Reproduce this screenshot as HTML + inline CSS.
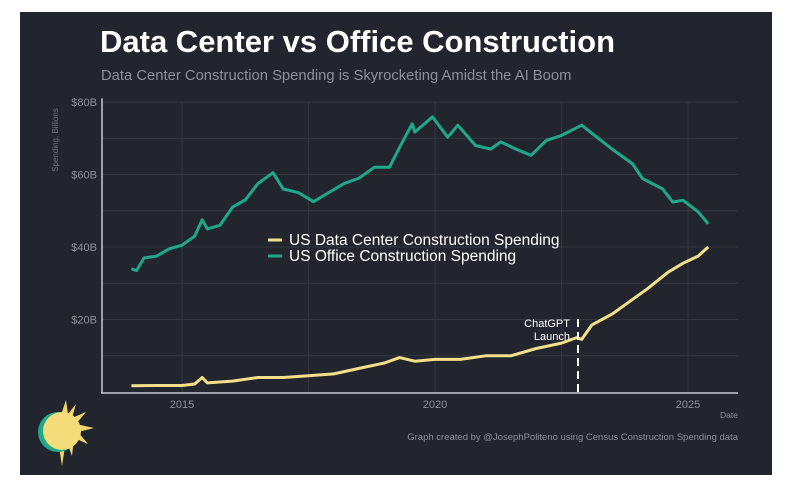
<!DOCTYPE html>
<html><head><meta charset="utf-8"><style>
body{margin:0;background:#fff;width:800px;height:496px;overflow:hidden;font-family:"Liberation Sans",sans-serif}
#panel{position:absolute;left:20px;top:12px;width:752px;height:463px;background:#22252e}
</style></head><body>
<div id="panel"></div>
<svg id="chart" width="800" height="496" style="position:absolute;left:0;top:0">
<text x="100" y="52" font-size="31" font-weight="bold" fill="#ffffff">Data Center vs Office Construction</text>
<text x="101" y="80" font-size="14.8" fill="#8d9099">Data Center Construction Spending is Skyrocketing Amidst the AI Boom</text>
<text transform="translate(58,140) rotate(-90)" text-anchor="middle" font-size="8" fill="#6f737c">Spending, Billions</text>
<text x="738" y="418" text-anchor="end" font-size="8.5" fill="#8d9099">Date</text>
<text x="738" y="440" text-anchor="end" font-size="9.5" fill="#8d9099">Graph created by @JosephPoliteno using Census Construction Spending data</text>
<g>
<polygon points="62,412 66,400 68,414 76,404 72,418 86,412 76,424 94,428 78,432 88,444 74,438 72,456 66,440 62,466 58,440 48,444 54,430" fill="#f2d66b"/>
<circle cx="58" cy="432" r="20" fill="#1fa88a"/>
<circle cx="62" cy="431" r="19" fill="#f5dc7a"/>
</g>
<g id="grid"></g><g id="axes"></g><g id="series"></g>
<line x1="578" y1="392" x2="578" y2="318" stroke="#fff" stroke-width="2" stroke-dasharray="8,5"/>
<text x="570" y="327" text-anchor="end" font-size="11" fill="#fff">ChatGPT</text>
<text x="570" y="340" text-anchor="end" font-size="11" fill="#fff">Launch</text>
<g>
<line x1="268" y1="240" x2="282" y2="240" stroke="#f5e08a" stroke-width="3"/>
<text x="289" y="245" font-size="15.5" fill="#fff">US Data Center Construction Spending</text>
<line x1="268" y1="256" x2="282" y2="256" stroke="#1fa88a" stroke-width="3"/>
<text x="289" y="261" font-size="15.5" fill="#fff">US Office Construction Spending</text>
</g>
</svg>
<script>
const officeYears=[2014.0,2014.1,2014.25,2014.5,2014.75,2015.0,2015.25,2015.4,2015.5,2015.75,2016.0,2016.25,2016.5,2016.8,2017.0,2017.3,2017.6,2017.9,2018.2,2018.5,2018.8,2019.1,2019.3,2019.55,2019.6,2019.95,2020.25,2020.45,2020.8,2021.1,2021.3,2021.6,2021.9,2022.2,2022.5,2022.9,2023.2,2023.5,2023.9,2024.1,2024.5,2024.7,2024.9,2025.2,2025.4];
const officeValues=[34,33.5,37,37.5,39.5,40.5,43,47.5,45,46,51,53,57.5,60.5,56,55,52.5,55,57.5,59,62,62,67.5,74,71.7,75.9,70.3,73.6,68,67,69,67,65.3,69.4,70.8,73.6,70.3,67,63,58.9,56,52.4,52.9,49.7,46.4];
const dcYears=[2014.0,2014.5,2015.0,2015.25,2015.4,2015.5,2016.0,2016.5,2017.0,2017.5,2018.0,2018.5,2019.0,2019.3,2019.6,2020.0,2020.5,2021.0,2021.5,2022.0,2022.5,2022.8,2022.9,2023.1,2023.5,2023.8,2024.2,2024.6,2024.9,2025.2,2025.4];
const dcValues=[1.7,1.8,1.8,2.2,4,2.5,3,4,4,4.5,5,6.5,8,9.5,8.5,9,9,10,10,12,13.5,15,14.5,18.5,21.5,24.5,28.5,33,35.5,37.5,40];
const yTicks=[20,40,60,80];
const yTickLabels=["$20B","$40B","$60B","$80B"];
const xTicks=[2015,2020,2025];
const xTickLabels=["2015","2020","2025"];
const X=y=>182+(y-2015)*50.6;
const Y=v=>392-v*3.625;
const NS="http://www.w3.org/2000/svg";
function mk(tag,attrs,parent,txt){const e=document.createElementNS(NS,tag);for(const k in attrs)e.setAttribute(k,attrs[k]);if(txt!==undefined)e.textContent=txt;parent.appendChild(e);return e;}
const grid=document.getElementById('grid'),axes=document.getElementById('axes'),series=document.getElementById('series');
for(let v=10;v<=80;v+=10){const l=mk('line',{x1:102,x2:738,y1:Y(v),y2:Y(v),stroke:'#33363f','stroke-width':1},grid);

}
for(let yr=2015;yr<=2025;yr+=2.5){const l=mk('line',{x1:X(yr),x2:X(yr),y1:Y(80),y2:392,stroke:'#33363f','stroke-width':1},grid);

}
yTicks.forEach((v,i)=>{const t=mk('text',{x:97,y:Y(v)+4,'text-anchor':'end','font-size':11,fill:'#8d9099'},axes,yTickLabels[i]);

});
xTicks.forEach((v,i)=>{const t=mk('text',{x:X(v),y:408,'text-anchor':'middle','font-size':11,fill:'#8d9099'},axes,xTickLabels[i]);

});
const ya=mk('line',{x1:102,x2:102,y1:Y(81),y2:393,stroke:'#c8cad0','stroke-width':1.5},axes);


const xa=mk('line',{x1:101,x2:738,y1:393,y2:393,stroke:'#c8cad0','stroke-width':1.5},axes);


function path(ys,vs){return ys.map((y,i)=>(i?'L':'M')+X(y).toFixed(1)+','+Y(vs[i]).toFixed(1)).join('');}
const o=mk('path',{d:path(officeYears,officeValues),fill:'none',stroke:'#1fa88a','stroke-width':3,'stroke-linejoin':'round'},series);


const d=mk('path',{d:path(dcYears,dcValues),fill:'none',stroke:'#f5e08a','stroke-width':3,'stroke-linejoin':'round'},series);


</script>
</body></html>
